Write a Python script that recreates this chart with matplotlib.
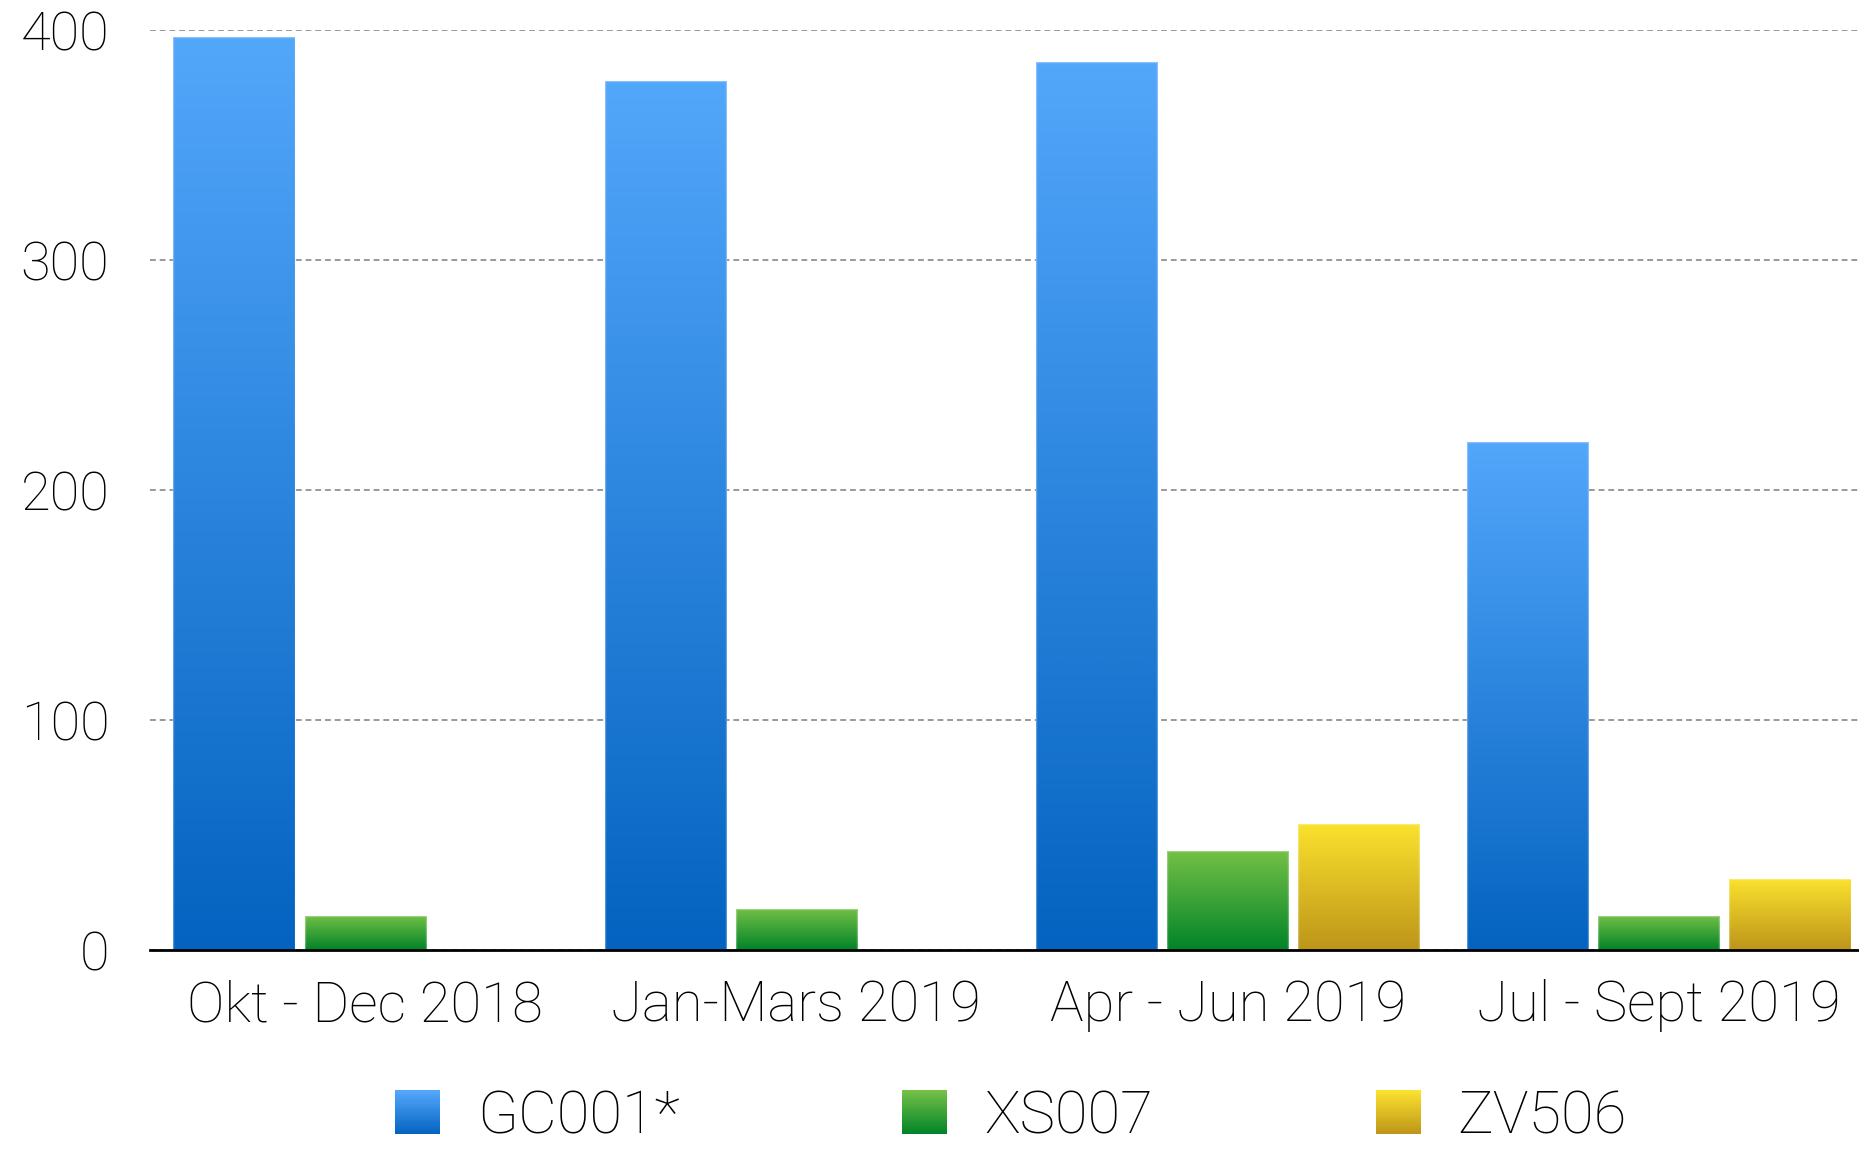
import numpy as np
import matplotlib
matplotlib.use('Agg')
import matplotlib.pyplot as plt
from matplotlib.colors import LinearSegmentedColormap
from matplotlib.patches import Rectangle
from matplotlib.legend_handler import HandlerBase

#-------------- DATA

categories = ["Okt - Dec 2018", "Jan-Mars 2019", "Apr - Jun 2019", "Jul - Sept 2019"]
series     = ["GC001*", "XS007", "ZV506"]
gc001      = [397, 378, 386, 221]
xs007      = [15, 18, 43, 15]
zv506      = [0, 0, 55, 31]
yticks     = [0, 100, 200, 300, 400]

# (top colour, bottom colour) for each series gradient
grads = [("#53a7fb", "#0463c0"),
         ("#74c046", "#008428"),
         ("#fbe22e", "#bd9519")]

#-------------- HELPERS

def grad_cmap(top, bot):
    return LinearSegmentedColormap.from_list('g', [bot, top])

class GradHandler(HandlerBase):
    def __init__(self, top, bot):
        super().__init__()
        self.cmap = grad_cmap(top, bot)

    def create_artists(self, legend, orig_handle, xdescent, ydescent,
                       width, height, fontsize, trans):
        n = 40
        arts = []
        for i in range(n):
            r = Rectangle((-xdescent, -ydescent + height*i/n), width, height/n*1.05,
                          facecolor=self.cmap(i/(n-1)), edgecolor='none', transform=trans)
            arts.append(r)
        return arts

#-------------- PLOT

plt.rcParams['font.family'] = ['Roboto', 'DejaVu Sans']
plt.rcParams['font.weight'] = 'light'

fig = plt.figure(figsize=(18.59, 11.5), dpi=100)
ax = fig.add_axes([149.5/1859, 1-950/1150, 1725/1859, 920/1150])

x = np.arange(len(categories))
step, width = 0.304, 0.281

for k, vals in enumerate([gc001, xs007, zv506]):
    top, bot = grads[k]
    cmap = grad_cmap(top, bot)
    bars = ax.bar(x + (k-1)*step, vals, width, facecolor='none',
                  edgecolor=(1, 1, 1, 0.3), linewidth=1, zorder=3)
    for b in bars:
        bx, by = b.get_xy()
        bw, bh = b.get_width(), b.get_height()
        if bh <= 0:
            continue
        im = ax.imshow(np.linspace(0, 1, 256).reshape(-1, 1), extent=[bx, bx+bw, by, by+bh],
                       origin='lower', aspect='auto', cmap=cmap, zorder=2, interpolation='bilinear')
        im.set_clip_path(b)

ax.set_xlim(-0.5, len(categories)-0.5)
ax.set_ylim(0, 400)
ax.set_aspect('auto')

ax.set_xticks(x)
ax.set_xticklabels(categories, fontsize=40.5)
ax.set_yticks(yticks)
ax.set_yticklabels([str(v) for v in yticks], fontsize=39)
ax.tick_params(axis='both', length=0)
ax.tick_params(axis='y', pad=29)
ax.tick_params(axis='x', pad=21)

ax.yaxis.grid(True, color='#999999', linewidth=1.4, linestyle=(0, (3, 2)))
ax.set_axisbelow(True)

for s in ['left', 'right', 'top']:
    ax.spines[s].set_visible(False)
ax.spines['bottom'].set_color('black')
ax.spines['bottom'].set_linewidth(2)
ax.spines['bottom'].set_zorder(5)

proxies = [Rectangle((0, 0), 1, 1) for _ in series]
hmap = {p: GradHandler(*grads[i]) for i, p in enumerate(proxies)}
fig.legend(proxies, series, handler_map=hmap, loc='center',
           bbox_to_anchor=(1011/1859, 1-1117/1150), ncol=3, frameon=False,
           fontsize=43, handlelength=0.75, handleheight=0.75, handletextpad=0.62,
           columnspacing=3.73, borderpad=0)

plt.savefig("out.png", dpi=100)
